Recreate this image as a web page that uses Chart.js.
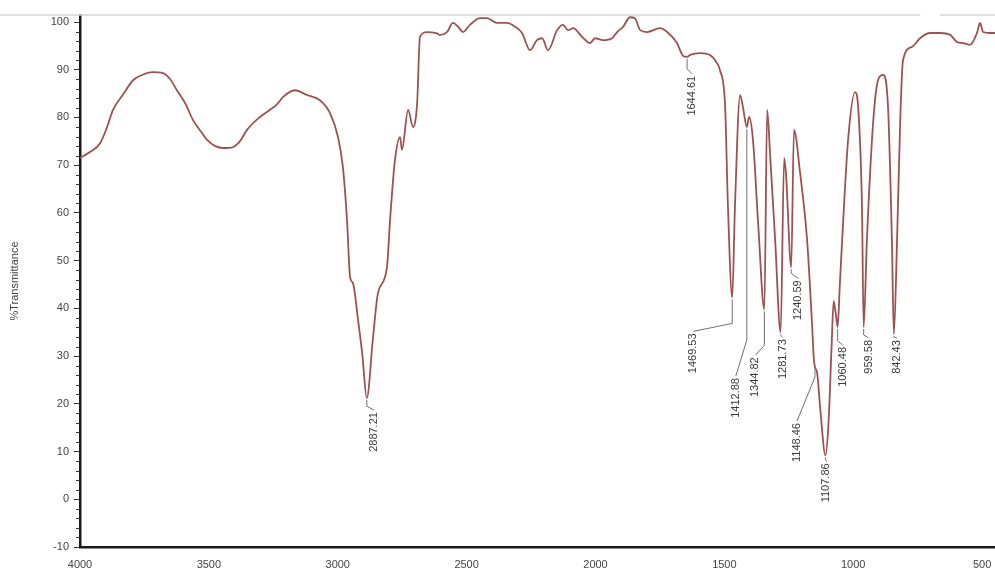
<!DOCTYPE html>
<html>
<head>
<meta charset="utf-8">
<title>FTIR spectrum</title>
<script src="https://cdn.jsdelivr.net/npm/chart.js@4.4.1/dist/chart.umd.min.js"></script>
<style>
  html, body { margin: 0; padding: 0; background: #ffffff; }
  #wrap { width: 995px; height: 572px; position: relative; }
</style>
</head>
<body>
<div id="wrap"><canvas id="spectrum"></canvas></div>
<script>
// Wavenumber (cm-1) and %Transmittance along the spectrum, high to low wavenumber
const wavenumbers = [
  4000, 3960, 3922, 3895, 3872, 3833, 3794, 3755, 3717, 3678, 3650, 3624, 3590, 3562, 3530, 3507,
  3475, 3445, 3406, 3380, 3352, 3302, 3263, 3235, 3212, 3166, 3119, 3069, 3030, 2999, 2980, 2964,
  2952, 2941, 2921, 2905, 2887.21, 2863, 2844, 2809, 2797, 2778, 2758, 2751, 2727, 2708, 2692, 2681,
  2654, 2615, 2603, 2576, 2553, 2533, 2514, 2487, 2448, 2421, 2382, 2343, 2312, 2285, 2254, 2227,
  2207, 2184, 2149, 2126, 2107, 2087, 2052, 2021, 2002, 1971, 1936, 1916, 1893, 1866, 1847, 1827,
  1800, 1750, 1722, 1684, 1660, 1644.61, 1633, 1594, 1556, 1530, 1517, 1497, 1486, 1469.53, 1459, 1439,
  1428, 1412.88, 1404, 1389, 1369, 1344.82, 1334, 1322, 1303, 1281.73, 1268, 1261, 1240.59, 1230, 1206, 1179,
  1160, 1153, 1148.46, 1140, 1128, 1107.86, 1096, 1084, 1076, 1068, 1060.48, 1052, 1043, 1020, 993, 981,
  966, 959.58, 947, 923, 904, 884, 865, 850, 842.43, 830, 818, 807, 772, 741, 702, 663,
  624, 597, 574, 547, 520, 508, 496, 469, 450
];
const transmittance = [
  71.5, 72.8, 74.6, 78.0, 81.6, 84.8, 87.8, 89.0, 89.5, 89.3, 88.0, 85.7, 82.8, 79.5, 77.0, 75.3,
  74.0, 73.6, 73.8, 75.0, 77.4, 80.1, 81.6, 82.8, 84.3, 85.7, 84.7, 83.6, 80.9, 75.9, 69.6, 58.5,
  46.5, 45.3, 37.5, 30.5, 21.2, 34.0, 43.2, 48.6, 58.5, 71.1, 75.9, 73.2, 81.6, 78.0, 83.0, 96.9,
  97.9, 97.6, 97.3, 97.9, 99.8, 99.0, 97.9, 99.4, 100.8, 100.8, 99.8, 99.8, 99.0, 97.7, 94.1, 96.2,
  96.6, 94.1, 98.3, 99.4, 98.3, 98.7, 96.9, 95.6, 96.6, 96.2, 96.6, 97.9, 99.0, 101.0, 100.8, 98.3,
  97.9, 98.7, 97.9, 95.6, 92.9, 92.7, 93.1, 93.5, 93.1, 91.5, 89.9, 82.2, 61.2, 42.3, 61.2, 84.7,
  82.2, 78.0, 80.1, 75.3, 57.9, 39.8, 81.6, 71.7, 54.3, 35.0, 71.5, 68.3, 48.6, 77.4, 68.3, 54.3,
  36.9, 29.5, 27.7, 26.5, 19.0, 9.2, 15.9, 32.0, 41.5, 39.0, 36.1, 45.0, 54.3, 75.3, 85.3, 82.2,
  61.2, 36.1, 54.3, 78.8, 87.8, 88.9, 82.2, 54.3, 34.6, 54.3, 78.8, 92.0, 94.8, 96.6, 97.7, 97.7,
  97.3, 95.8, 95.6, 95.2, 97.7, 99.8, 97.9, 97.7, 97.7
];

// Labelled peak positions (cm-1)
const peakWavenumbers = [2887.21, 1644.61, 1469.53, 1412.88, 1344.82, 1281.73, 1240.59, 1148.46, 1107.86, 1060.48, 959.58, 842.43];

// Axis ticks
const xTickValues = [4000, 3500, 3000, 2500, 2000, 1500, 1000, 500];
const yTickValues = [-10, 0, 10, 20, 30, 40, 50, 60, 70, 80, 90, 100];

// Pixel offsets of each peak label from its peak: text centre (dx), text top (dy), end of the vertical leader (bend)
const peakLabelLayout = [
  { dx: 7, dy: 14, bend: 8 },
  { dx: 5, dy: 19, bend: 12 },
  { dx: -39, dy: 36, bend: 26 },
  { dx: -11, dy: 251, bend: 213 },
  { dx: -9, dy: 48, bend: 36 },
  { dx: 2, dy: 7, bend: 3 },
  { dx: 7, dy: 13, bend: 6 },
  { dx: -18, dy: 56, bend: 10 },
  { dx: 1, dy: 8, bend: 4 },
  { dx: 5, dy: 20, bend: 14 },
  { dx: 5, dy: 13, bend: 8 },
  { dx: 3, dy: 6, bend: 3 }
];

const FONT = '"Liberation Sans", Arial, sans-serif';
const spectrumPoints = wavenumbers.map((w, i) => ({ x: w, y: transmittance[i] }));

// Frame line along the top, minor y ticks and the peak labels
const decorations = {
  id: 'decorations',
  beforeDatasetsDraw(chart) {
    const { ctx, chartArea, scales } = chart;
    const y0 = chartArea.top;
    ctx.save();
    ctx.strokeStyle = '#d6d6d6';
    ctx.lineWidth = 1.5;
    ctx.beginPath();
    ctx.moveTo(0, y0);
    ctx.lineTo(scales.x.getPixelForValue(740), y0);
    ctx.moveTo(scales.x.getPixelForValue(665), y0);
    ctx.lineTo(chart.width, y0);
    ctx.stroke();
    ctx.restore();
  },
  afterDraw(chart) {
    const { ctx, chartArea, scales } = chart;
    const xs = scales.x, ys = scales.y;
    ctx.save();
    // minor ticks on the y axis
    ctx.strokeStyle = '#333';
    ctx.lineWidth = 1;
    for (let v = -10; v <= 100; v += 2) {
      if (v % 10 === 0) continue;
      const py = Math.round(ys.getPixelForValue(v)) + 0.5;
      ctx.beginPath();
      ctx.moveTo(chartArea.left - 4, py);
      ctx.lineTo(chartArea.left, py);
      ctx.stroke();
    }
    // peak labels with leaders
    ctx.font = '11px ' + FONT;
    ctx.fillStyle = '#3a3a3a';
    ctx.textAlign = 'right';
    ctx.textBaseline = 'middle';
    peakWavenumbers.forEach((w, i) => {
      const idx = wavenumbers.indexOf(w);
      const px = xs.getPixelForValue(w);
      const py = ys.getPixelForValue(transmittance[idx]);
      const L = peakLabelLayout[i];
      ctx.strokeStyle = '#6f6f6f';
      ctx.lineWidth = 1;
      ctx.beginPath();
      ctx.moveTo(px, py + 2);
      ctx.lineTo(px, py + L.bend);
      ctx.lineTo(px + L.dx, py + L.dy - 2);
      ctx.stroke();
      ctx.save();
      ctx.translate(px + L.dx, py + L.dy);
      ctx.rotate(-Math.PI / 2);
      ctx.fillText(w.toFixed(2), 0, 0);
      ctx.restore();
    });
    ctx.restore();
  }
};

new Chart(document.getElementById('spectrum'), {
  type: 'line',
  data: {
    datasets: [{
      data: spectrumPoints,
      borderColor: '#9a5252',
      borderWidth: 1.8,
      pointRadius: 0,
      fill: false,
      cubicInterpolationMode: 'monotone'
    }]
  },
  options: {
    responsive: true,
    maintainAspectRatio: false,
    animation: false,
    layout: { padding: { top: 15, right: 0, left: 0, bottom: 0 } },
    plugins: { legend: { display: false }, tooltip: { enabled: false } },
    scales: {
      x: {
        type: 'linear',
        reverse: true,
        min: 450,
        max: 4000,
        afterBuildTicks(scale) { scale.ticks = xTickValues.map(v => ({ value: v })); },
        afterFit(scale) { scale.height = 25; scale.paddingLeft = 0; scale.paddingRight = 0; },
        grid: { display: true, drawOnChartArea: false, drawTicks: false },
        border: { display: true, color: '#1a1a1a', width: 2.5 },
        ticks: {
          color: '#444', font: { size: 11, family: FONT }, padding: 11, maxRotation: 0, autoSkip: false,
          callback: (v) => String(v)
        }
      },
      y: {
        type: 'linear',
        min: -10,
        max: 101.47,
        afterBuildTicks(scale) { scale.ticks = yTickValues.map(v => ({ value: v })); },
        afterFit(scale) { scale.width = 80; },
        grid: { display: true, drawOnChartArea: false, drawTicks: true, tickLength: 6, color: '#333' },
        border: { display: true, color: '#1a1a1a', width: 2.5 },
        ticks: { color: '#444', font: { size: 11, family: FONT }, padding: 5, callback: (v) => String(v) },
        title: { display: true, text: '%Transmittance', color: '#444', font: { size: 11, family: FONT }, padding: { top: 8, bottom: 0 } }
      }
    }
  },
  plugins: [decorations]
});
</script>
</body>
</html>
